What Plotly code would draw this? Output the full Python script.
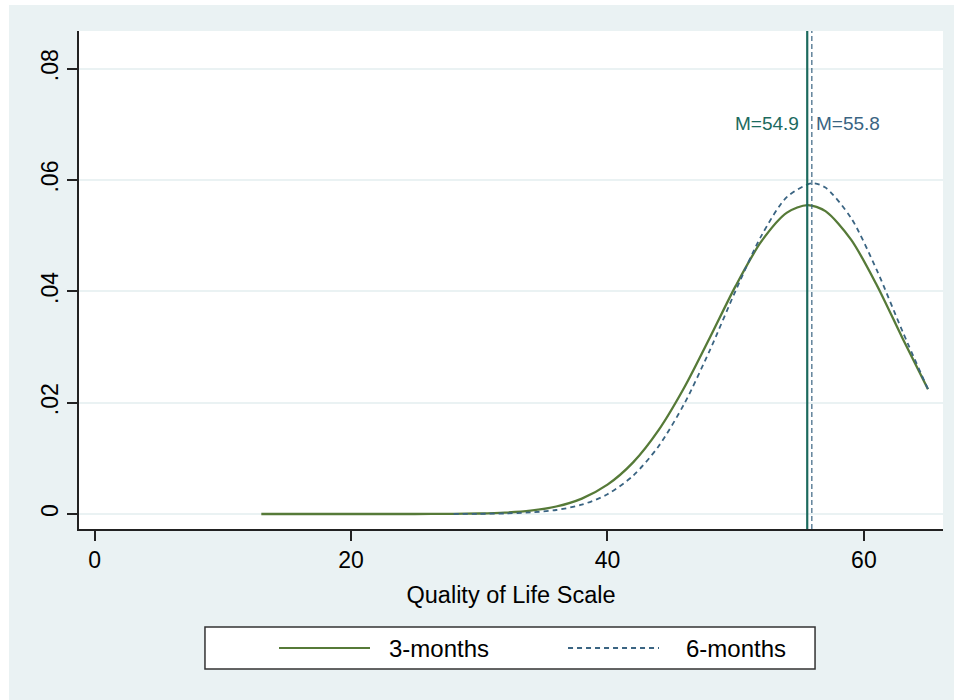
import plotly.graph_objects as go

# ---- data ----
x_3m = [13, 20, 25, 28, 30, 32, 34, 36, 38, 40, 42, 44, 46, 48, 50, 52, 54, 55.6, 57, 59, 61, 63, 65]
y_3m = [0.0, 0.0000003, 0.0000065, 0.000035, 0.000098, 0.000254, 0.000609, 0.001352, 0.002774,
        0.005273, 0.009276, 0.01511, 0.02277, 0.03175, 0.04098, 0.04896, 0.05414, 0.0555,
        0.05440, 0.04929, 0.04114, 0.03163, 0.02240]

x_6m = [28, 30, 32, 34, 36, 38, 40, 42, 44, 46, 48, 50, 52, 54, 55.95, 57, 59, 61, 63, 65]
y_6m = [0.0000104, 0.0000343, 0.0001035, 0.000286, 0.000724, 0.001676, 0.003551, 0.006884,
        0.01222, 0.01985, 0.02950, 0.04014, 0.04997, 0.05695, 0.0594, 0.05863, 0.05317,
        0.04384, 0.03287, 0.02241]

series_names = ["3-months", "6-months"]
mean_lines = [55.58, 55.94]
mean_labels = ["M=54.9", "M=55.8"]
label_y = 0.0702

x_ticks = [0, 20, 40, 60]
y_ticks = [0, 0.02, 0.04, 0.06, 0.08]
y_ticktext = ["0", ".02", ".04", ".06", ".08"]

# ---- styles ----
BG = "#eaf2f3"
GREEN = "#567a38"
BLUE = "#3a6482"
TEAL = "#1c6a5e"
FONT = "Arial, Liberation Sans, sans-serif"

fig = go.Figure()
fig.add_trace(go.Scatter(x=x_3m, y=y_3m, mode="lines", name=series_names[0],
                         line=dict(color=GREEN, width=2.3, shape="spline", smoothing=0.8),
                         showlegend=False))
fig.add_trace(go.Scatter(x=x_6m, y=y_6m, mode="lines", name=series_names[1],
                         line=dict(color=BLUE, width=1.8, dash="5px,4px", shape="spline", smoothing=0.8),
                         showlegend=False))

# vertical mean lines
fig.add_shape(type="line", xref="x", yref="paper", x0=mean_lines[0], x1=mean_lines[0], y0=0, y1=1,
              line=dict(color=TEAL, width=2.2))
fig.add_shape(type="line", xref="x", yref="paper", x0=mean_lines[1], x1=mean_lines[1], y0=0, y1=1,
              line=dict(color=BLUE, width=1.2, dash="5px,3px"))

fig.add_annotation(x=mean_lines[0], y=label_y, text=mean_labels[0], showarrow=False,
                   xanchor="right", xshift=-6, font=dict(family=FONT, size=19, color=TEAL))
fig.add_annotation(x=mean_lines[1], y=label_y, text=mean_labels[1], showarrow=False,
                   xanchor="left", xshift=2, font=dict(family=FONT, size=19, color=BLUE))

# white page edges (outer light region starts a few px in)
fig.add_shape(type="rect", xref="paper", yref="paper", x0=-0.0914, x1=-0.0810, y0=-0.4, y1=1.07,
              line=dict(width=0), fillcolor="white", layer="above")
fig.add_shape(type="rect", xref="paper", yref="paper", x0=-0.1, x1=1.02, y0=1.0522, y1=1.07,
              line=dict(width=0), fillcolor="white", layer="above")

# custom legend box
fig.add_shape(type="rect", xref="paper", yref="paper", x0=0.1458, x1=0.8519, y0=-0.2811, y1=-0.1968,
              line=dict(color="#333333", width=1.5), fillcolor="white")
fig.add_shape(type="line", xref="paper", yref="paper", x0=0.2315, x1=0.3368, y0=-0.2390, y1=-0.2390,
              line=dict(color=GREEN, width=2.2))
fig.add_shape(type="line", xref="paper", yref="paper", x0=0.5660, x1=0.6713, y0=-0.2390, y1=-0.2390,
              line=dict(color=BLUE, width=1.8, dash="5px,4px"))
fig.add_annotation(xref="paper", yref="paper", x=0.3565, y=-0.2390, text=series_names[0],
                   showarrow=False, xanchor="left", yanchor="middle",
                   font=dict(family=FONT, size=24, color="black"))
fig.add_annotation(xref="paper", yref="paper", x=0.7002, y=-0.2390, text=series_names[1],
                   showarrow=False, xanchor="left", yanchor="middle",
                   font=dict(family=FONT, size=24, color="black"))

fig.update_layout(
    width=954, height=700,
    margin=dict(l=79, r=11, t=31, b=171),
    paper_bgcolor=BG, plot_bgcolor="white",
    font=dict(family=FONT, size=23, color="black"),
    showlegend=False,
    xaxis=dict(range=[-1.22, 66.17], tickvals=x_ticks, ticks="outside", ticklen=10, tickwidth=1.5,
               tickcolor="#222", showline=True, linecolor="#222", linewidth=1.5, showgrid=False,
               zeroline=False, tickfont=dict(size=23),
               title=dict(text="Quality of Life Scale", font=dict(size=23.5), standoff=14)),
    yaxis=dict(range=[-0.00269, 0.08676], tickvals=y_ticks, ticktext=y_ticktext, tickangle=-90,
               ticks="outside", ticklen=10, tickwidth=1.5, tickcolor="#222", showline=True,
               linecolor="#222", linewidth=1.5, showgrid=True, gridcolor=BG, gridwidth=1.5,
               zeroline=False, tickfont=dict(size=23)),
)

fig.write_html("out.html")
